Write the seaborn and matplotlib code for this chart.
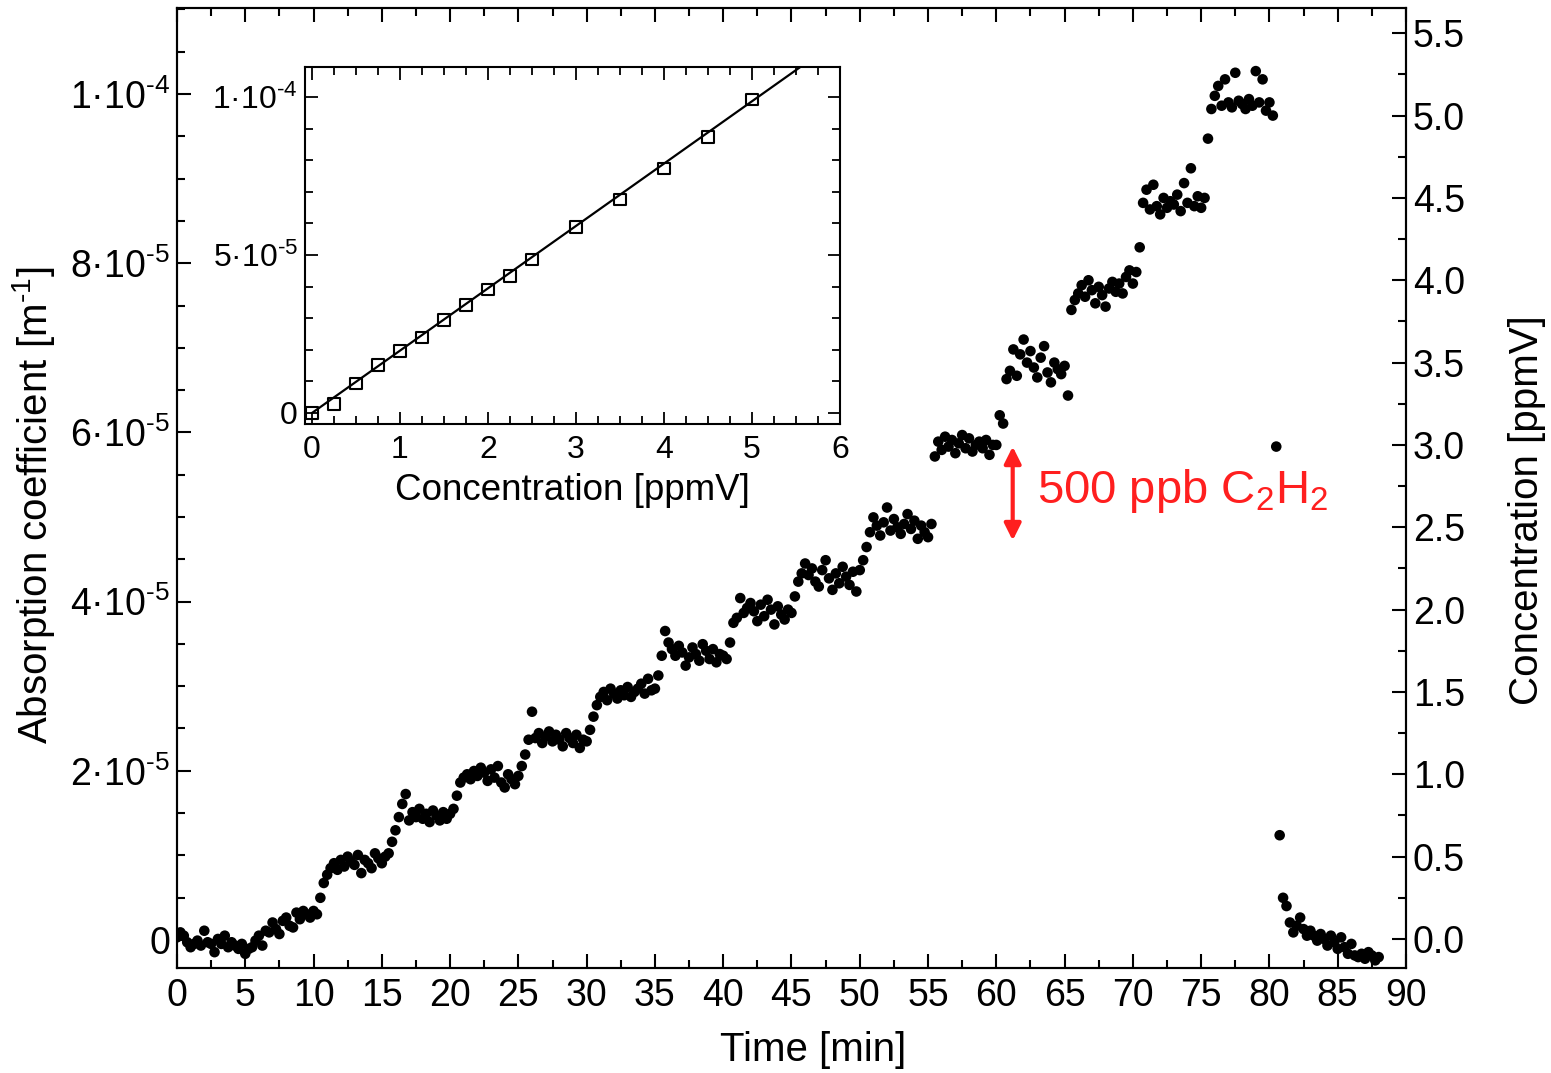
import numpy as np
import pandas as pd
import matplotlib
matplotlib.use("Agg")
import matplotlib.pyplot as plt
import seaborn as sns
from matplotlib.ticker import MultipleLocator, FixedLocator, FuncFormatter

# ---------------- data ----------------
sample_interval_min = 0.25  # one reading every 15 s

conc_ppmv = [
    0.01, 0.04, 0.02, -0.02,    # 0
    -0.05, -0.03, -0.01, -0.04,  # 1
    0.05, -0.02, -0.03, -0.08,  # 2
    0.00, -0.03, 0.02, -0.05,   # 3
    -0.02, -0.04, -0.06, -0.03,  # 4
    -0.09, -0.06, -0.05, -0.01,  # 5
    0.02, -0.04, 0.05, 0.04,    # 6
    0.10, 0.06, 0.03, 0.11,     # 7
    0.13, 0.08, 0.07, 0.16,     # 8
    0.12, 0.17, 0.15, 0.13,     # 9
    0.17, 0.15, 0.25, 0.34,     # 10
    0.39, 0.43, 0.46, 0.42,     # 11
    0.48, 0.44, 0.50, 0.47,     # 12
    0.45, 0.51, 0.40, 0.48,     # 13
    0.46, 0.43, 0.52, 0.49,     # 14
    0.46, 0.50, 0.52, 0.59,     # 15
    0.66, 0.74, 0.82, 0.88,     # 16
    0.72, 0.77, 0.74, 0.79,     # 17
    0.73, 0.76, 0.71, 0.78,     # 18
    0.75, 0.72, 0.77, 0.73,     # 19
    0.76, 0.79, 0.87, 0.95,     # 20
    0.98, 1.00, 0.97, 1.02,     # 21
    0.99, 1.04, 1.01, 0.96,     # 22
    1.03, 0.98, 1.05, 0.95,     # 23
    0.92, 1.00, 0.97, 0.94,     # 24
    0.99, 1.05, 1.12, 1.21,     # 25
    1.38, 1.22, 1.25, 1.19,     # 26
    1.23, 1.26, 1.20, 1.24,     # 27
    1.21, 1.17, 1.25, 1.22,     # 28
    1.19, 1.24, 1.16, 1.21,     # 29
    1.20, 1.27, 1.35, 1.42,     # 30
    1.47, 1.50, 1.45, 1.52,     # 31
    1.49, 1.46, 1.51, 1.48,     # 32
    1.53, 1.47, 1.50, 1.52,     # 33
    1.55, 1.49, 1.58, 1.51,     # 34
    1.52, 1.60, 1.72, 1.87,     # 35
    1.80, 1.76, 1.72, 1.78,     # 36
    1.74, 1.66, 1.71, 1.77,     # 37
    1.73, 1.69, 1.79, 1.75,     # 38
    1.70, 1.76, 1.68, 1.73,     # 39
    1.72, 1.70, 1.80, 1.92,     # 40
    1.95, 2.07, 1.98, 2.01,     # 41
    2.04, 1.99, 1.93, 2.03,     # 42
    1.96, 2.06, 2.00, 1.91,     # 43
    2.02, 1.97, 1.94, 2.00,     # 44
    1.98, 2.08, 2.17, 2.22,     # 45
    2.28, 2.21, 2.25, 2.17,     # 46
    2.14, 2.24, 2.30, 2.19,     # 47
    2.12, 2.22, 2.16, 2.26,     # 48
    2.20, 2.15, 2.23, 2.11,     # 49
    2.24, 2.30, 2.38, 2.47,     # 50
    2.56, 2.51, 2.45, 2.53,     # 51
    2.62, 2.48, 2.55, 2.50,     # 52
    2.46, 2.52, 2.58, 2.49,     # 53
    2.54, 2.43, 2.51, 2.47,     # 54
    2.44, 2.52, 2.93, 3.02,     # 55
    2.97, 3.05, 2.99, 3.03,     # 56
    2.95, 3.01, 3.06, 2.98,     # 57
    3.04, 2.96, 3.00, 3.02,     # 58
    2.98, 3.03, 2.94, 3.00,     # 59
    3.00, 3.18, 3.13, 3.40,     # 60
    3.45, 3.58, 3.42, 3.55,     # 61
    3.64, 3.50, 3.57, 3.47,     # 62
    3.41, 3.53, 3.60, 3.44,     # 63
    3.38, 3.50, 3.46, 3.43,     # 64
    3.48, 3.30, 3.82, 3.88,     # 65
    3.92, 3.97, 3.90, 4.00,     # 66
    3.94, 3.86, 3.96, 3.91,     # 67
    3.84, 3.95, 3.99, 3.93,     # 68
    3.98, 3.92, 4.02, 4.06,     # 69
    3.98, 4.05, 4.20, 4.47,     # 70
    4.55, 4.43, 4.58, 4.45,     # 71
    4.40, 4.50, 4.44, 4.48,     # 72
    4.46, 4.52, 4.42, 4.59,     # 73
    4.47, 4.68, 4.45, 4.51,     # 74
    4.44, 4.50, 4.86, 5.04,     # 75
    5.12, 5.18, 5.06, 5.22,     # 76
    5.08, 5.05, 5.26, 5.09,     # 77
    5.07, 5.04, 5.10, 5.06,     # 78
    5.27, 5.08, 5.22, 5.03,     # 79
    5.08, 5.00, 2.99, 0.63,     # 80
    0.25, 0.20, 0.10, 0.04,     # 81
    0.08, 0.13, 0.06, 0.02,     # 82
    0.05, 0.02, -0.01, 0.03,    # 83
    0.00, -0.04, 0.02, -0.02,   # 84
    -0.06, 0.01, -0.05, -0.09,  # 85
    -0.03, -0.10, -0.11, -0.09,  # 86
    -0.12, -0.08, -0.10, -0.13,  # 87
    -0.11,                      # 88
]

# inset calibration
inset_conc = [0, 0.25, 0.5, 0.75, 1.0, 1.25, 1.5, 1.75, 2.0, 2.25, 2.5,
              3.0, 3.5, 4.0, 4.5, 5.0]
inset_abs = [0.0, 0.28e-5, 0.93e-5, 1.51e-5, 1.97e-5, 2.39e-5, 2.94e-5,
             3.42e-5, 3.91e-5, 4.34e-5, 4.86e-5, 5.89e-5, 6.76e-5,
             7.74e-5, 8.73e-5, 9.92e-5]
fit_slope = 1.973e-5
fit_intercept = 0.0
fit_range = [0.0, 6.0]

left_ticks = [0, 2e-5, 4e-5, 6e-5, 8e-5, 1e-4]
inset_yticks = [0, 5e-5, 1e-4]
annotation_text = "500 ppb C$_2$H$_2$"

# ---------------- style ----------------
sns.set_theme(style="ticks")
plt.rcParams["font.family"] = ["Liberation Sans", "DejaVu Sans"]
plt.rcParams["mathtext.fontset"] = "custom"
plt.rcParams["mathtext.rm"] = "Liberation Sans"
plt.rcParams["mathtext.it"] = "Liberation Sans:italic"
plt.rcParams["mathtext.bf"] = "Liberation Sans:bold"
plt.rcParams["mathtext.default"] = "regular"
plt.rcParams["axes.linewidth"] = 1.5
for key in ("text.color", "axes.labelcolor", "xtick.color", "ytick.color",
            "axes.edgecolor", "xtick.labelcolor", "ytick.labelcolor"):
    plt.rcParams[key] = "black"

df = pd.DataFrame({"time": np.arange(len(conc_ppmv)) * sample_interval_min,
                   "conc": conc_ppmv})
df_in = pd.DataFrame({"conc": inset_conc, "abs": inset_abs})
fit_x = np.array(fit_range)
df_fit = pd.DataFrame({"conc": fit_x, "abs": fit_intercept + fit_slope * fit_x})


def abs_fmt(v, pos):
    if abs(v) < 1e-15:
        return "0"
    e = int(np.floor(np.log10(abs(v)) + 1e-9))
    m = v / 10 ** e
    return "%d·10$^{\\text{-%d}}$" % (round(m), -e)


fig = plt.figure(figsize=(15.51, 10.73), dpi=100)
ax = fig.add_axes([0.1141, 0.0979, 0.7924, 0.8946])
ax2 = ax.twinx()

sns.scatterplot(data=df, x="time", y="conc", ax=ax2, color="black",
                s=58, edgecolor="none", linewidth=0, legend=False)

ax.set_xlim(0, 90)
ax.set_ylim(-3.31e-6, 1.1017e-4)
ax2.set_ylim(-0.176, 5.653)

ax.xaxis.set_major_locator(MultipleLocator(5))
ax.xaxis.set_minor_locator(MultipleLocator(2.5))
ax.yaxis.set_major_locator(FixedLocator(left_ticks))
ax.yaxis.set_minor_locator(MultipleLocator(5e-6))
ax.yaxis.set_major_formatter(FuncFormatter(abs_fmt))
ax2.yaxis.set_major_locator(MultipleLocator(0.5))
ax2.yaxis.set_minor_locator(MultipleLocator(0.25))
ax2.yaxis.set_major_formatter(FuncFormatter(lambda v, p: "%.1f" % v))

ax.tick_params(axis="x", which="both", direction="in", top=True, bottom=True,
               labelsize=27, pad=7, width=1.5, colors="black")
ax.tick_params(axis="x", which="major", length=10)
ax.tick_params(axis="x", which="minor", length=6)
ax.tick_params(axis="y", which="both", direction="in", left=True, right=False,
               labelsize=27, pad=5, width=1.5, colors="black")
ax.tick_params(axis="y", which="major", length=10)
ax.tick_params(axis="y", which="minor", length=6)
ax2.tick_params(axis="y", which="both", direction="in", right=True, left=False,
                labelsize=27, pad=5, width=1.5, colors="black")
ax2.tick_params(axis="y", which="major", length=10)
ax2.tick_params(axis="y", which="minor", length=6)

ax.set_xlabel("Time [min]", fontsize=29, color="black")
ax.xaxis.set_label_coords(0.5175, -0.066)
ax.set_ylabel("Absorption coefficient [m$^{\\text{-1}}$]", fontsize=29,
              color="black")
ax.yaxis.set_label_coords(-0.098, 0.482)
ax2.set_ylabel("Concentration [ppmV]", fontsize=29, color="black")
ax2.yaxis.set_label_coords(1.083, 0.477)

for a in (ax, ax2):
    for s in a.spines.values():
        s.set_linewidth(1.5)
        s.set_color("black")

# annotation
red = "#ff1f1f"
ax2.annotate("", xy=(61.2, 2.99), xytext=(61.2, 2.42),
             arrowprops=dict(arrowstyle="<|-|>", color=red, lw=3,
                             mutation_scale=25, shrinkA=0, shrinkB=0))
ax2.text(63.0, 2.72, annotation_text, color=red, fontsize=34,
         ha="left", va="center")

# ---------------- inset ----------------
axi = fig.add_axes([0.1966, 0.6048, 0.3450, 0.3328])
axi.set_zorder(5)
axi.set_facecolor("white")
sns.lineplot(data=df_fit, x="conc", y="abs", ax=axi, color="black", lw=1.6)
sns.scatterplot(data=df_in, x="conc", y="abs", ax=axi, marker="s", s=70,
                facecolor="none", edgecolor="black", linewidth=1.5, zorder=3)
axi.set_xlim(-0.08, 6.0)
axi.set_ylim(-0.35e-5, 1.095e-4)
axi.xaxis.set_major_locator(MultipleLocator(1))
axi.xaxis.set_minor_locator(MultipleLocator(0.25))
axi.yaxis.set_major_locator(FixedLocator(inset_yticks))
axi.yaxis.set_minor_locator(MultipleLocator(1e-5))
axi.yaxis.set_major_formatter(FuncFormatter(abs_fmt))
axi.tick_params(which="both", direction="in", top=True, right=True,
                bottom=True, left=True, labelsize=23, width=1.3,
                colors="black")
axi.tick_params(which="major", length=9)
axi.tick_params(which="minor", length=6)
axi.tick_params(axis="x", pad=8)
axi.tick_params(axis="y", pad=5)
axi.set_xlabel("Concentration [ppmV]", fontsize=26.5, labelpad=6,
               color="black")
axi.set_ylabel("")
for s in axi.spines.values():
    s.set_linewidth(1.5)
    s.set_color("black")

fig.savefig("out.png", dpi=100)
